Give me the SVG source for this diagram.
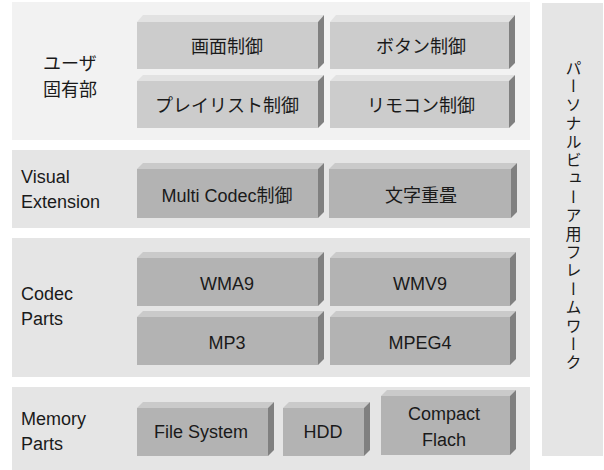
<svg xmlns="http://www.w3.org/2000/svg" width="604" height="470" viewBox="0 0 604 470">
<style>
text{font-family:"Liberation Sans","Noto Sans CJK JP",sans-serif;font-size:18px;fill:#1a1a1a}
.c{text-anchor:middle}
.p1{fill:#f2f2f2}
.p2{fill:#e5e5e5}
.f1{fill:#cccccc}.t1{fill:#e2e2e2}
.f2{fill:#b3b3b3}.t2{fill:#cacaca}
.s{fill:#808080}
.v{writing-mode:vertical-rl;font-size:16px;letter-spacing:2.4px}
</style>
<rect width="604" height="470" fill="#ffffff"/>
<g id="panels">
<rect class="p1" x="12" y="2" width="518" height="138"/>
<rect class="p2" x="12" y="150" width="518" height="78"/>
<rect class="p2" x="12" y="238" width="518" height="139"/>
<rect class="p2" x="12" y="387" width="518" height="83"/>
</g>
<g id="labels">
<text x="43" y="70">ユーザ</text>
<text x="43" y="96">固有部</text>
<text x="21" y="183">Visual</text>
<text x="21" y="208">Extension</text>
<text x="21" y="300">Codec</text>
<text x="21" y="325">Parts</text>
<text x="21" y="425">Memory</text>
<text x="21" y="450">Parts</text>
</g>
<g id="n-gamen">
<polygon class="t1" points="137,22 143,15 324,15 318,22"/><polygon class="s" points="318,22 324,15 324,63 318,69"/>
<rect class="f1" x="137" y="22" width="181" height="47"/>
<text class="c" x="227" y="53">画面制御</text>
</g>
<g id="n-button">
<polygon class="t1" points="330,22 336,15 515,15 509,22"/><polygon class="s" points="509,22 515,15 515,63 509,69"/>
<rect class="f1" x="330" y="22" width="179" height="47"/>
<text class="c" x="421" y="53">ボタン制御</text>
</g>
<g id="n-playlist">
<polygon class="t1" points="137,81 143,75 324,75 318,81"/><polygon class="s" points="318,81 324,75 324,122 318,128"/>
<rect class="f1" x="137" y="81" width="181" height="47"/>
<text class="c" x="227" y="112">プレイリスト制御</text>
</g>
<g id="n-remocon">
<polygon class="t1" points="330,81 336,75 515,75 509,81"/><polygon class="s" points="509,81 515,75 515,122 509,128"/>
<rect class="f1" x="330" y="81" width="179" height="47"/>
<text class="c" x="421" y="112">リモコン制御</text>
</g>
<g id="n-multicodec">
<polygon class="t2" points="137,169 143,163 324,163 318,169"/><polygon class="s" points="318,169 324,163 324,212 318,218"/>
<rect class="f2" x="137" y="169" width="181" height="49"/>
<text class="c" x="227" y="202">Multi Codec制御</text>
</g>
<g id="n-moji">
<polygon class="t2" points="329,169 335,163 517,163 511,169"/><polygon class="s" points="511,169 517,163 517,212 511,218"/>
<rect class="f2" x="329" y="169" width="182" height="49"/>
<text class="c" x="421" y="202">文字重畳</text>
</g>
<g id="n-wma9">
<polygon class="t2" points="137,258 143,252 324,252 318,258"/><polygon class="s" points="318,258 324,252 324,300 318,306"/>
<rect class="f2" x="137" y="258" width="181" height="48"/>
<text class="c" x="227" y="290">WMA9</text>
</g>
<g id="n-wmv9">
<polygon class="t2" points="330,258 336,252 516,252 510,258"/><polygon class="s" points="510,258 516,252 516,300 510,306"/>
<rect class="f2" x="330" y="258" width="180" height="48"/>
<text class="c" x="420" y="290">WMV9</text>
</g>
<g id="n-mp3">
<polygon class="t2" points="137,317 143,311 324,311 318,317"/><polygon class="s" points="318,317 324,311 324,359 318,365"/>
<rect class="f2" x="137" y="317" width="181" height="48"/>
<text class="c" x="227" y="349">MP3</text>
</g>
<g id="n-mpeg4">
<polygon class="t2" points="330,317 336,311 516,311 510,317"/><polygon class="s" points="510,317 516,311 516,359 510,365"/>
<rect class="f2" x="330" y="317" width="180" height="48"/>
<text class="c" x="420" y="349">MPEG4</text>
</g>
<g id="n-filesystem">
<polygon class="t2" points="137,408 143,402 274,402 268,408"/><polygon class="s" points="268,408 274,402 274,450 268,456"/>
<rect class="f2" x="137" y="408" width="131" height="48"/>
<text class="c" x="201" y="438">File System</text>
</g>
<g id="n-hdd">
<polygon class="t2" points="283,408 289,402 370,402 364,408"/><polygon class="s" points="364,408 370,402 370,450 364,456"/>
<rect class="f2" x="283" y="408" width="81" height="48"/>
<text class="c" x="323" y="438">HDD</text>
</g>
<g id="n-compact">
<polygon class="t2" points="381,396 387,390 516,390 510,396"/><polygon class="s" points="510,396 516,390 516,449 510,455"/>
<rect class="f2" x="381" y="396" width="129" height="59"/>
<text class="c" x="444" y="420">Compact</text>
<text class="c" x="444" y="446">Flach</text>
</g>
<g id="n-framework">
<rect class="p2" x="542" y="3" width="61" height="453"/>
<text class="v" x="572" y="60">パーソナルビューア用フレームワーク</text>
</g>
<g id="connectors"/>
</svg>
